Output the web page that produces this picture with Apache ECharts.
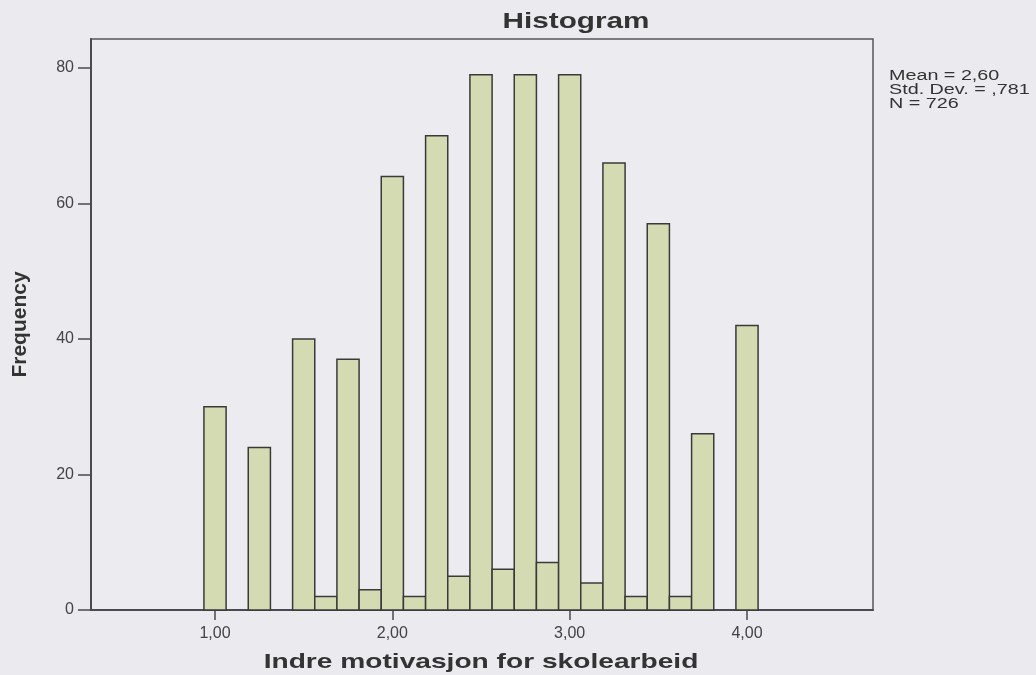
<!DOCTYPE html>
<html>
<head>
<meta charset="utf-8">
<script src="https://cdn.jsdelivr.net/npm/echarts@6/dist/echarts.min.js"></script>
<style>
html,body{margin:0;padding:0;background:#eaeaef;}
#c{width:1036px;height:675px;}
</style>
</head>
<body>
<div id="c"></div>
<script>
// Bin centres (bin width 0.125) and frequencies
const binCenters = [1.000,1.125,1.250,1.375,1.500,1.625,1.750,1.875,2.000,2.125,2.250,2.375,2.500,2.625,2.750,2.875,3.000,3.125,3.250,3.375,3.500,3.625,3.750,3.875,4.000];
const frequencies = [30,0,24,0,40,2,37,3,64,2,70,5,79,6,79,7,79,4,66,2,57,2,26,0,42];
const binWidth = 0.125;
const xTickValues = [1,2,3,4];
const yTickValues = [0,20,40,60,80];
const titleText = 'Histogram';
const xAxisTitle = 'Indre motivasjon for skolearbeid';
const yAxisTitle = 'Frequency';
const statsLines = ['Mean = 2,60','Std. Dev. = ,781','N = 726'];

const chart = echarts.init(document.getElementById('c'));
const data = binCenters.map((c,i)=>[c, frequencies[i]]);
const font = '"Liberation Sans", Arial, sans-serif';

chart.setOption({
  backgroundColor: '#eaeaef',
  animation: false,
  grid: {left: 91, right: 163, top: 39, bottom: 65, show: true, borderColor: '#55555c', borderWidth: 1.5, backgroundColor: '#ececf0'},
  xAxis: {
    type: 'value', min: 0.3007, max: 4.7105,
    axisLine: {show: true, onZero: false, lineStyle: {color: '#4a4a52', width: 2}},
    axisTick: {show: true, length: 10, customValues: xTickValues, lineStyle: {color: '#4a4a52', width: 1.5}},
    axisLabel: {customValues: xTickValues, margin: 16, fontFamily: font, fontSize: 16, letterSpacing: 2, color: '#444',
      formatter: v => v.toFixed(2).replace('.', ',')},
    splitLine: {show: false}
  },
  yAxis: {
    type: 'value', min: 0, max: 84.29,
    name: yAxisTitle, nameLocation: 'middle', nameGap: 60, nameRotate: 90,
    nameTextStyle: {fontFamily: font, fontWeight: 'bold', fontSize: 21, color: '#333'},
    axisLine: {show: true, lineStyle: {color: '#4a4a52', width: 2}},
    axisTick: {show: true, length: 13, customValues: yTickValues, lineStyle: {color: '#4a4a52', width: 1.5}},
    axisLabel: {customValues: yTickValues, margin: 17, fontFamily: font, fontSize: 16, letterSpacing: 2, color: '#444'},
    splitLine: {show: false}
  },
  graphic: [
    {type: 'text', x: 576, y: 21.5, scaleX: 1.35, style: {text: titleText, fontFamily: font, fontWeight: 'bold', fontSize: 22, fill: '#333', align: 'center', verticalAlign: 'middle'}},
    {type: 'text', x: 481, y: 662, scaleX: 1.34, style: {text: xAxisTitle, fontFamily: font, fontWeight: 'bold', fontSize: 21, fill: '#333', align: 'center', verticalAlign: 'middle'}},
    {type: 'text', x: 889, y: 69, scaleX: 1.41, style: {text: statsLines.join('\n'), fontFamily: font, fontSize: 14, lineHeight: 14, fill: '#333', align: 'left', verticalAlign: 'top'}}
  ],
  series: [{
    type: 'custom',
    data: data,
    renderItem: function(params, api) {
      const x = api.value(0), y = api.value(1);
      if (!y) return null;
      const p0 = api.coord([x - binWidth/2, y]);
      const p1 = api.coord([x + binWidth/2, 0]);
      return {type: 'rect', shape: {x: p0[0], y: p0[1], width: p1[0]-p0[0], height: p1[1]-p0[1]},
        style: {fill: '#d4dbb3', stroke: '#3a3a3a', lineWidth: 1.5}};
    },
    encode: {x: 0, y: 1}
  }]
});
</script>
</body>
</html>
